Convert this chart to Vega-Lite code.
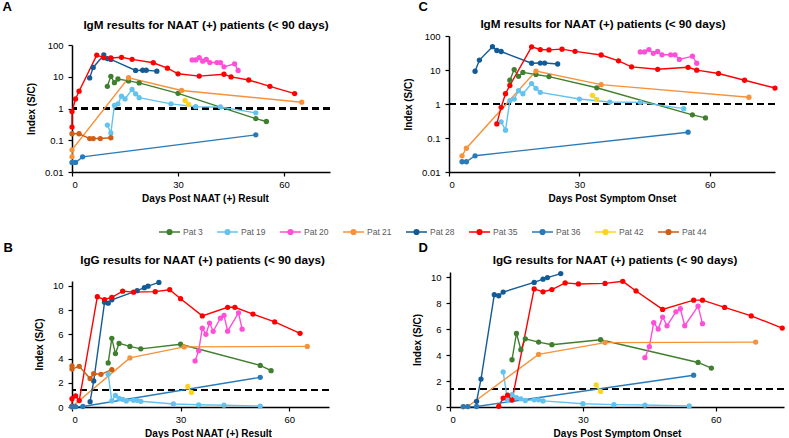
{
"$schema":"https://vega.github.io/schema/vega-lite/v6.json",
"padding":{"left":2,"top":1,"right":0,"bottom":0},
"background":"white",
"config":{
 "view":{"stroke":null},
 "font":"Liberation Sans",
 "axis":{"grid":false,"domainColor":"#000","domainWidth":1.5,"tickColor":"#000","tickWidth":1.2,"tickSize":4,"labelColor":"#000","labelFontSize":9.5,"labelFont":"Liberation Sans","titleFont":"Liberation Sans","titleFontSize":10,"titleFontWeight":"bold","titleColor":"#000"},
 "axisX":{"labelPadding":3,"titlePadding":5},
 "axisY":{"labelPadding":5,"titlePadding":8},
 "title":{"font":"Liberation Sans","fontSize":11.7,"fontWeight":"bold","color":"#000"},
 "legend":{"orient":"none","legendX":86,"legendY":188,"direction":"horizontal","title":null,"symbolType":"M-1,0H1M0.22,0A0.22,0.22 0 1 1 -0.22,0A0.22,0.22 0 1 1 0.22,0Z","symbolSize":441,"symbolStrokeWidth":1.6,"labelFontSize":8.5,"labelFont":"Liberation Sans","labelColor":"#595959","columnPadding":10,"labelOffset":2,"padding":0}
},
"datasets":{
 "igm":[
  {"p":"Pat 3","n":10,"o":14,"v":5.0},{"p":"Pat 3","n":11,"o":15,"v":10.3},{"p":"Pat 3","n":12,"o":16,"v":6.5},{"p":"Pat 3","n":13,"o":17,"v":8.5},{"p":"Pat 3","n":16,"o":20,"v":7.4},{"p":"Pat 3","n":19,"o":23,"v":6.4},{"p":"Pat 3","n":30,"o":34,"v":3.0},{"p":"Pat 3","n":52,"o":56,"v":0.48},{"p":"Pat 3","n":55,"o":59,"v":0.39},
  {"p":"Pat 19","n":10,"o":12,"v":0.3},{"p":"Pat 19","n":11,"o":13,"v":0.17},{"p":"Pat 19","n":12,"o":14,"v":1.25},{"p":"Pat 19","n":13,"o":15,"v":1.4},{"p":"Pat 19","n":14,"o":16,"v":2.45},{"p":"Pat 19","n":15,"o":17,"v":2.0},{"p":"Pat 19","n":17,"o":19,"v":4.0},{"p":"Pat 19","n":18,"o":20,"v":2.9},{"p":"Pat 19","n":19,"o":21,"v":2.2},{"p":"Pat 19","n":28,"o":30,"v":1.4},{"p":"Pat 19","n":35,"o":37,"v":1.14},{"p":"Pat 19","n":42,"o":44,"v":1.12},{"p":"Pat 19","n":52,"o":54,"v":0.73},
  {"p":"Pat 20","n":34,"o":44,"v":34},{"p":"Pat 20","n":35,"o":45,"v":34},{"p":"Pat 20","n":36,"o":46,"v":40},{"p":"Pat 20","n":37,"o":47,"v":31},{"p":"Pat 20","n":38,"o":48,"v":35},{"p":"Pat 20","n":39,"o":49,"v":28},{"p":"Pat 20","n":41,"o":51,"v":28},{"p":"Pat 20","n":42,"o":52,"v":28},{"p":"Pat 20","n":43,"o":53,"v":20.5},{"p":"Pat 20","n":46,"o":56,"v":25.5},{"p":"Pat 20","n":47,"o":57,"v":15.8},
  {"p":"Pat 21","n":0,"o":3,"v":0.03},{"p":"Pat 21","n":0,"o":4,"v":0.05},{"p":"Pat 21","n":16,"o":20,"v":9.3},{"p":"Pat 21","n":31,"o":35,"v":3.7},{"p":"Pat 21","n":65,"o":69,"v":1.58},
  {"p":"Pat 28","n":5,"o":6,"v":9.2},{"p":"Pat 28","n":6,"o":7,"v":19.6},{"p":"Pat 28","n":9,"o":10,"v":48.5},{"p":"Pat 28","n":10,"o":11,"v":37.5},{"p":"Pat 28","n":11,"o":12,"v":35},{"p":"Pat 28","n":18,"o":19,"v":15.8},{"p":"Pat 28","n":20,"o":21,"v":16},{"p":"Pat 28","n":21,"o":22,"v":16},{"p":"Pat 28","n":24,"o":25,"v":15},
  {"p":"Pat 35","n":0,"o":11,"v":0.26},{"p":"Pat 35","n":0,"o":12,"v":0.8},{"p":"Pat 35","n":1,"o":13,"v":2.0},{"p":"Pat 35","n":2,"o":14,"v":3.5},{"p":"Pat 35","n":7,"o":19,"v":48},{"p":"Pat 35","n":9,"o":21,"v":40},{"p":"Pat 35","n":11,"o":23,"v":39},{"p":"Pat 35","n":14,"o":26,"v":41},{"p":"Pat 35","n":17,"o":29,"v":35.4},{"p":"Pat 35","n":23,"o":35,"v":27.6},{"p":"Pat 35","n":27,"o":39,"v":18.6},{"p":"Pat 35","n":30,"o":42,"v":12.4},{"p":"Pat 35","n":36,"o":48,"v":10.5},{"p":"Pat 35","n":43,"o":55,"v":12},{"p":"Pat 35","n":45,"o":57,"v":9.9},{"p":"Pat 35","n":50,"o":62,"v":7.9},{"p":"Pat 35","n":56,"o":68,"v":5},{"p":"Pat 35","n":63,"o":75,"v":2.95},
  {"p":"Pat 36","n":0,"o":3,"v":0.02},{"p":"Pat 36","n":1,"o":4,"v":0.02},{"p":"Pat 36","n":3,"o":6,"v":0.03},{"p":"Pat 36","n":52,"o":55,"v":0.148},
  {"p":"Pat 42","n":32,"o":33,"v":1.8},{"p":"Pat 42","n":33,"o":34,"v":1.35},
  {"p":"Pat 44","n":0,"o":null,"v":0.16},{"p":"Pat 44","n":2,"o":null,"v":0.16},{"p":"Pat 44","n":5,"o":null,"v":0.113},{"p":"Pat 44","n":6,"o":null,"v":0.113},{"p":"Pat 44","n":8,"o":null,"v":0.113},{"p":"Pat 44","n":11,"o":null,"v":0.12}
 ],
 "igg":[
  {"p":"Pat 3","n":10,"o":14,"v":3.64},{"p":"Pat 3","n":11,"o":15,"v":5.67},{"p":"Pat 3","n":12,"o":16,"v":4.41},{"p":"Pat 3","n":13,"o":17,"v":5.25},{"p":"Pat 3","n":16,"o":20,"v":5.0},{"p":"Pat 3","n":19,"o":23,"v":4.8},{"p":"Pat 3","n":30,"o":34,"v":5.18},{"p":"Pat 3","n":52,"o":56,"v":3.43},{"p":"Pat 3","n":55,"o":59,"v":3.0},
  {"p":"Pat 19","n":10,"o":12,"v":2.7},{"p":"Pat 19","n":11,"o":13,"v":0.5},{"p":"Pat 19","n":12,"o":14,"v":0.96},{"p":"Pat 19","n":13,"o":15,"v":0.72},{"p":"Pat 19","n":14,"o":16,"v":0.63},{"p":"Pat 19","n":15,"o":17,"v":0.5},{"p":"Pat 19","n":17,"o":19,"v":0.55},{"p":"Pat 19","n":18,"o":20,"v":0.55},{"p":"Pat 19","n":19,"o":21,"v":0.47},{"p":"Pat 19","n":28,"o":30,"v":0.25},{"p":"Pat 19","n":35,"o":37,"v":0.18},{"p":"Pat 19","n":42,"o":44,"v":0.15},{"p":"Pat 19","n":52,"o":54,"v":0.08},
  {"p":"Pat 20","n":34,"o":44,"v":3.8},{"p":"Pat 20","n":35,"o":45,"v":4.65},{"p":"Pat 20","n":36,"o":46,"v":6.5},{"p":"Pat 20","n":37,"o":47,"v":6.0},{"p":"Pat 20","n":38,"o":48,"v":6.93},{"p":"Pat 20","n":39,"o":49,"v":6.25},{"p":"Pat 20","n":41,"o":51,"v":7.33},{"p":"Pat 20","n":42,"o":52,"v":7.57},{"p":"Pat 20","n":43,"o":53,"v":6.26},{"p":"Pat 20","n":46,"o":56,"v":7.77},{"p":"Pat 20","n":47,"o":57,"v":6.42},
  {"p":"Pat 21","n":0,"o":3,"v":0.02},{"p":"Pat 21","n":0,"o":4,"v":0.03},{"p":"Pat 21","n":16,"o":20,"v":4.05},{"p":"Pat 21","n":31,"o":35,"v":4.96},{"p":"Pat 21","n":65,"o":69,"v":5.0},
  {"p":"Pat 28","n":5,"o":6,"v":0.44},{"p":"Pat 28","n":6,"o":7,"v":2.15},{"p":"Pat 28","n":9,"o":10,"v":8.65},{"p":"Pat 28","n":10,"o":11,"v":8.57},{"p":"Pat 28","n":11,"o":12,"v":8.85},{"p":"Pat 28","n":18,"o":19,"v":9.6},{"p":"Pat 28","n":20,"o":21,"v":9.85},{"p":"Pat 28","n":21,"o":22,"v":9.97},{"p":"Pat 28","n":24,"o":25,"v":10.28},
  {"p":"Pat 35","n":0,"o":11,"v":0.05},{"p":"Pat 35","n":0,"o":12,"v":0.69},{"p":"Pat 35","n":1,"o":13,"v":0.91},{"p":"Pat 35","n":2,"o":14,"v":0.53},{"p":"Pat 35","n":7,"o":19,"v":9.1},{"p":"Pat 35","n":9,"o":21,"v":8.87},{"p":"Pat 35","n":11,"o":23,"v":9.05},{"p":"Pat 35","n":14,"o":26,"v":9.56},{"p":"Pat 35","n":17,"o":29,"v":9.48},{"p":"Pat 35","n":23,"o":35,"v":9.52},{"p":"Pat 35","n":27,"o":39,"v":9.68},{"p":"Pat 35","n":30,"o":42,"v":8.94},{"p":"Pat 35","n":36,"o":48,"v":7.52},{"p":"Pat 35","n":43,"o":55,"v":8.23},{"p":"Pat 35","n":45,"o":57,"v":8.23},{"p":"Pat 35","n":50,"o":62,"v":7.67},{"p":"Pat 35","n":56,"o":68,"v":7.02},{"p":"Pat 35","n":63,"o":75,"v":6.08},
  {"p":"Pat 36","n":0,"o":3,"v":0.03},{"p":"Pat 36","n":1,"o":4,"v":0.03},{"p":"Pat 36","n":3,"o":6,"v":0.04},{"p":"Pat 36","n":52,"o":55,"v":2.45},
  {"p":"Pat 42","n":32,"o":33,"v":1.7},{"p":"Pat 42","n":33,"o":34,"v":1.2},
  {"p":"Pat 44","n":0,"o":null,"v":3.39},{"p":"Pat 44","n":0,"o":null,"v":3.13},{"p":"Pat 44","n":2,"o":null,"v":3.36},{"p":"Pat 44","n":5,"o":null,"v":2.35},{"p":"Pat 44","n":6,"o":null,"v":2.75},{"p":"Pat 44","n":8,"o":null,"v":2.7},{"p":"Pat 44","n":11,"o":null,"v":3.08}
 ],
 "cut":[{"d":0},{"d":60}]
},
"vconcat":[
 {"hconcat":[
  {"title":{"text":"A","anchor":"start","fontSize":13,"offset":6,"dx":-24},
   "vconcat":[{
    "title":{"text":"IgM results for NAAT (+) patients (< 90 days)","frame":"group","dx":5,"offset":0},
    "width":258,"height":140,
    "data":{"name":"igm"},
    "encoding":{
     "x":{"field":"n","type":"quantitative","scale":{"domain":[0,73],"nice":false,"zero":false},"axis":{"values":[0,30,60],"title":"Days Post NAAT (+) Result","titleX":133}},
     "y":{"field":"v","type":"quantitative","scale":{"type":"log","domain":[0.01,100],"nice":false,"range":[140,13]},"axis":{"values":[0.01,0.1,1,10,100],"format":"~g","title":"Index (S/C)"}},
     "color":{"field":"p","type":"nominal","scale":{"domain":["Pat 3","Pat 19","Pat 20","Pat 21","Pat 28","Pat 35","Pat 36","Pat 42","Pat 44"],"range":["#3F7F2F","#63C3EE","#FF4FD8","#F8923A","#135B96","#FF0000","#2A7AB8","#FFD320","#D05E14"]}}
    },
    "layer":[
     {"mark":{"type":"rule","strokeDash":[7,4],"strokeWidth":1.6,"color":"#000"},"encoding":{"y":{"datum":1},"x":null,"color":null}},
     {"mark":{"type":"line","strokeWidth":1.4}},
     {"mark":{"type":"circle","size":28,"opacity":1}}
    ]
   }]
  },
  {"title":{"text":"C","anchor":"start","fontSize":13,"offset":5,"dx":15},
   "vconcat":[{
    "title":{"text":"IgM results for NAAT (+) patients (< 90 days)","frame":"group","dx":-9,"offset":0},
    "width":326,"height":140,
    "data":{"name":"igm"},
    "transform":[{"filter":"isValid(datum.o)"}],
    "encoding":{
     "x":{"field":"o","type":"quantitative","scale":{"domain":[0,75],"nice":false,"zero":false},"axis":{"values":[0,30,60],"title":"Days Post Symptom Onset"}},
     "y":{"field":"v","type":"quantitative","scale":{"type":"log","domain":[0.01,100],"nice":false,"range":[140,4]},"axis":{"values":[0.01,0.1,1,10,100],"format":"~g","title":"Index (S/C)"}},
     "color":{"field":"p","type":"nominal"}
    },
    "layer":[
     {"mark":{"type":"rule","strokeDash":[7,4],"strokeWidth":1.6,"color":"#000"},"encoding":{"y":{"datum":1},"x":null,"color":null}},
     {"mark":{"type":"line","strokeWidth":1.4}},
     {"mark":{"type":"circle","size":28,"opacity":1}},
     {"data":{"name":"cut"},"mark":{"type":"point","filled":true,"fill":"#fff","stroke":"#000","strokeWidth":1,"size":20},"encoding":{"x":{"field":"d","type":"quantitative"},"y":{"datum":1},"color":null}}
    ]
   }]
  }
 ],"spacing":72},
 {"hconcat":[
  {"title":{"text":"B","anchor":"start","fontSize":13,"offset":0,"dx":-31},
   "vconcat":[{
    "title":{"text":"IgG results for NAAT (+) patients (< 90 days)","frame":"group","dx":2,"offset":0},
    "width":257,"height":140,
    "data":{"name":"igg"},
    "encoding":{
     "x":{"field":"n","type":"quantitative","scale":{"domain":[0,71],"nice":false,"zero":false},"axis":{"values":[0,30,60],"title":"Days Post NAAT (+) Result","titleX":136}},
     "y":{"field":"v","type":"quantitative","scale":{"domain":[0,10.4],"nice":false,"range":[140,14]},"axis":{"values":[0,2,4,6,8,10],"title":"Index (S/C)"}},
     "color":{"field":"p","type":"nominal"}
    },
    "layer":[
     {"mark":{"type":"rule","strokeDash":[7,4],"strokeWidth":1.6,"color":"#000"},"encoding":{"y":{"datum":1.4},"x":null,"color":null}},
     {"mark":{"type":"line","strokeWidth":1.4}},
     {"mark":{"type":"circle","size":28,"opacity":1}}
    ]
   }]
  },
  {"title":{"text":"D","anchor":"start","fontSize":13,"offset":0,"dx":6},
   "vconcat":[{
    "title":{"text":"IgG results for NAAT (+) patients (< 90 days)","frame":"group","dx":-2,"offset":0},
    "width":334,"height":140,
    "data":{"name":"igg"},
    "transform":[{"filter":"isValid(datum.o)"}],
    "encoding":{
     "x":{"field":"o","type":"quantitative","scale":{"domain":[0,75.4],"nice":false,"zero":false},"axis":{"values":[0,30,60],"title":"Days Post Symptom Onset"}},
     "y":{"field":"v","type":"quantitative","scale":{"domain":[0,10.4],"nice":false,"range":[140,5]},"axis":{"values":[0,2,4,6,8,10],"title":"Index (S/C)"}},
     "color":{"field":"p","type":"nominal"}
    },
    "layer":[
     {"mark":{"type":"rule","strokeDash":[7,4],"strokeWidth":1.6,"color":"#000"},"encoding":{"y":{"datum":1.4},"x":null,"color":null}},
     {"mark":{"type":"line","strokeWidth":1.4}},
     {"mark":{"type":"circle","size":28,"opacity":1}},
     {"data":{"name":"cut"},"mark":{"type":"point","filled":true,"fill":"#fff","stroke":"#000","strokeWidth":1,"size":20},"encoding":{"x":{"field":"d","type":"quantitative"},"y":{"datum":1.4},"color":null}}
    ]
   }]
  }
 ],"spacing":82}
],
"spacing":38
}
